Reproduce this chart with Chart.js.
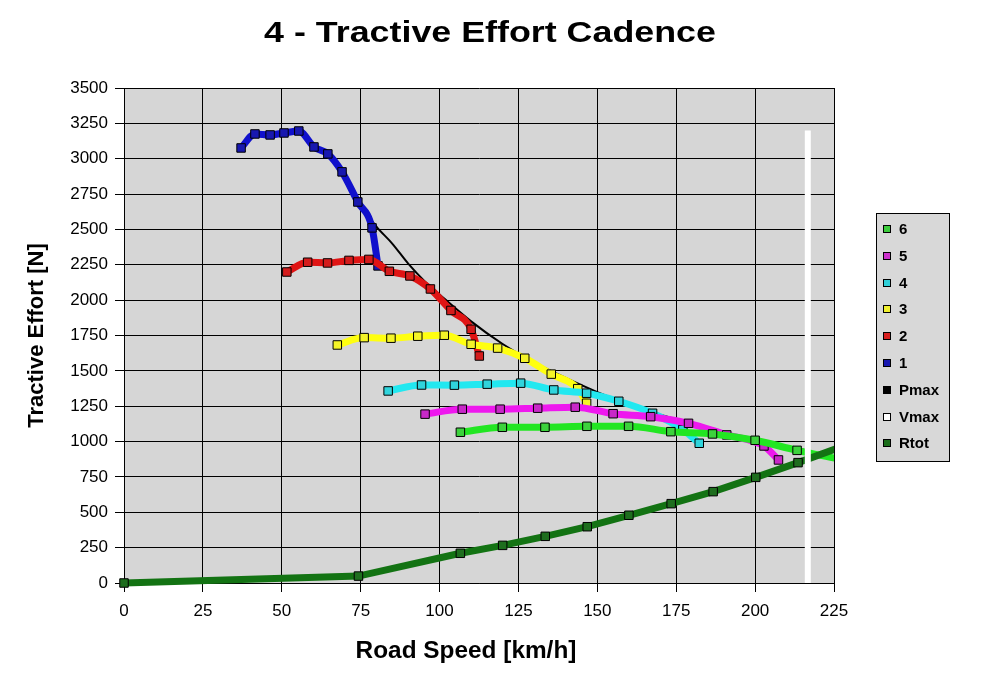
<!DOCTYPE html>
<html>
<head>
<meta charset="utf-8">
<title>4 - Tractive Effort Cadence</title>
<script src="https://cdn.jsdelivr.net/npm/chart.js@4/dist/chart.umd.min.js"></script>
<style>
    body { margin: 0; background: #fff; }
</style>
</head>
<body>
<canvas id="tractiveChart" width="1000" height="688"></canvas>
<script>
// values (speed in km/h, force in N)
const gear1_speed = [37.1, 41.5, 46.3, 50.7, 55.4, 60.2, 64.6, 69.1, 74.1, 78.6, 80.5]
const gear1_force = [3076, 3175, 3168, 3182, 3196, 3083, 3034, 2907, 2694, 2511, 2242]

const gear2_speed = [51.6, 58.2, 64.5, 71.3, 77.6, 84.1, 90.6, 97.1, 103.6, 110.0, 112.6]
const gear2_force = [2199, 2268, 2263, 2281, 2288, 2204, 2171, 2079, 1927, 1794, 1605]

const gear3_speed = [67.6, 76.1, 84.6, 93.1, 101.5, 110.0, 118.4, 127.0, 135.4, 143.8, 146.6]
const gear3_force = [1683, 1735, 1731, 1745, 1752, 1688, 1661, 1589, 1477, 1374, 1271]

const gear4_speed = [83.7, 94.3, 104.7, 115.1, 125.7, 136.2, 146.6, 156.8, 167.5, 177.1, 182.3]
const gear4_force = [1358, 1400, 1399, 1406, 1413, 1365, 1342, 1285, 1200, 1085, 988]

const gear5_speed = [95.4, 107.2, 119.2, 131.1, 143.0, 155.0, 166.9, 178.9, 191.0, 202.8, 207.4]
const gear5_force = [1194, 1229, 1229, 1236, 1243, 1197, 1176, 1129, 1047, 969, 870]

const gear6_speed = [106.6, 119.9, 133.4, 146.7, 159.9, 173.3, 186.5, 200.0, 213.3, 227.0]
const gear6_force = [1066, 1101, 1101, 1108, 1108, 1070, 1054, 1009, 938, 875]

const pmax_speed = [69, 74, 80, 85, 90, 95, 100, 110, 120, 130, 140, 150, 160, 170, 180, 190, 200, 210, 217]
const pmax_force = [2910, 2705, 2520, 2400, 2260, 2140, 2040, 1850, 1690, 1560, 1450, 1350, 1265, 1190, 1125, 1065, 1010, 965, 935]

const vmax_speed = [216.7, 216.7]
const vmax_force = [0, 3200]

const rtot_speed = [0, 74.3, 106.6, 120.0, 133.5, 146.8, 160.0, 173.4, 186.7, 200.2, 213.6, 227.0]
const rtot_force = [0, 49, 210, 266, 330, 398, 479, 561, 646, 747, 851, 961]

const speed_ticks = [0, 25, 50, 75, 100, 125, 150, 175, 200, 225]
const force_ticks = [0, 250, 500, 750, 1000, 1250, 1500, 1750, 2000, 2250, 2500, 2750, 3000, 3250, 3500]

const legend_labels = ['6', '5', '4', '3', '2', '1', 'Pmax', 'Vmax', 'Rtot']

const titulo = '4 - Tractive Effort Cadence'
const titulo_x = 'Road Speed [km/h]'
const titulo_y = 'Tractive Effort [N]'

const FONT = '"Liberation Sans", Arial, Helvetica, sans-serif'

function hacer_puntos(speed, force) {
    return speed.map((v, i) => ({ x: v, y: force[i] }))
}

function serie_marcha(label, speed, force, linea, relleno) {
    return {
        label: label,
        data: hacer_puntos(speed, force),
        borderColor: linea,
        borderWidth: 7,
        backgroundColor: relleno,
        pointBackgroundColor: relleno,
        pointBorderColor: '#000',
        pointBorderWidth: 1,
        pointStyle: 'rect',
        pointRadius: 6,
        cubicInterpolationMode: 'monotone'
    }
}

const legend_colors = ['#3ccc3c', '#cc30cc', '#30d0d8', '#f0f030', '#d82020', '#1818b0', '#000', '#fff', '#1b6e1b']

// texto estirado a lo ancho, como en la imagen original
function texto_ancho(ctx, texto, x, y, font, escala) {
    ctx.save()
    ctx.font = font
    ctx.fillStyle = '#000'
    ctx.textAlign = 'center'
    ctx.textBaseline = 'middle'
    ctx.translate(x, y)
    ctx.scale(escala, 1)
    ctx.fillText(texto, 0, 0)
    ctx.restore()
}

const fondo_plugin = {
    id: 'fondo',
    beforeDraw(chart) {
        const { ctx, chartArea } = chart
        ctx.save()
        ctx.fillStyle = '#fff'
        ctx.fillRect(0, 0, chart.width, chart.height)
        ctx.fillStyle = '#d6d6d6'
        ctx.fillRect(chartArea.left, chartArea.top, chartArea.right - chartArea.left, chartArea.bottom - chartArea.top)
        ctx.restore()
    }
}

const textos_plugin = {
    id: 'textos',
    afterDraw(chart) {
        const ctx = chart.ctx
        texto_ancho(ctx, titulo, 490, 34, 'bold 29px ' + FONT, 1.235)
        texto_ancho(ctx, titulo_x, 466, 652, 'bold 23px ' + FONT, 1.06)
    }
}

const leyenda_plugin = {
    id: 'leyenda',
    afterDraw(chart) {
        const ctx = chart.ctx
        ctx.save()
        ctx.fillStyle = '#d8d8d8'
        ctx.fillRect(876, 213, 73, 248)
        ctx.strokeStyle = '#000'
        ctx.lineWidth = 1
        ctx.strokeRect(876.5, 213.5, 73, 248)
        ctx.font = 'bold 15px ' + FONT
        ctx.textBaseline = 'middle'
        legend_labels.forEach((label, i) => {
            const y = Math.round(229 + i * 26.8)
            ctx.fillStyle = legend_colors[i]
            ctx.fillRect(883, y - 4, 8, 8)
            ctx.strokeStyle = '#000'
            ctx.strokeRect(883.5, y - 3.5, 7, 7)
            ctx.fillStyle = '#000'
            ctx.fillText(label, 899, y + 1)
        })
        ctx.restore()
    }
}

function dibujar_grafico() {
    const tractiveChart = document.getElementById('tractiveChart')
    new Chart(tractiveChart, {
        type: 'line',
        data: {
            datasets: [
                {
                    label: 'Vmax',
                    data: hacer_puntos(vmax_speed, vmax_force),
                    borderColor: '#fff',
                    borderWidth: 6,
                    pointRadius: 0
                },
                Object.assign(serie_marcha('Rtot', rtot_speed, rtot_force, '#137313', '#1e6e1e'),
                    { clip: { left: 10, top: 10, right: 0, bottom: 10 }, cubicInterpolationMode: 'default', tension: 0 }),
                Object.assign(serie_marcha('6', gear6_speed, gear6_force, '#22e622', '#3cd23c'),
                    { clip: { left: 10, top: 10, right: 0, bottom: 10 } }),
                serie_marcha('5', gear5_speed, gear5_force, '#ee18ee', '#c828c8'),
                serie_marcha('4', gear4_speed, gear4_force, '#22e8f0', '#30d4dc'),
                serie_marcha('3', gear3_speed, gear3_force, '#ffff10', '#f4f428'),
                serie_marcha('2', gear2_speed, gear2_force, '#e01414', '#d41c1c'),
                serie_marcha('1', gear1_speed, gear1_force, '#1010cc', '#1818b0'),
                {
                    label: 'Pmax',
                    data: hacer_puntos(pmax_speed, pmax_force),
                    borderColor: '#000',
                    borderWidth: 2,
                    pointRadius: 0,
                    cubicInterpolationMode: 'monotone'
                }
            ]
        },
        options: {
            responsive: false,
            animation: false,
            devicePixelRatio: 1,
            layout: { padding: { left: 0, right: 166, top: 88, bottom: 0 } },
            plugins: {
                legend: { display: false },
                tooltip: { enabled: false },
                title: { display: false }
            },
            scales: {
                x: {
                    type: 'linear',
                    min: 0,
                    max: 225,
                    afterFit(scale) { scale.height = 105 },
                    afterBuildTicks(scale) { scale.ticks = speed_ticks.map(v => ({ value: v })) },
                    ticks: {
                        color: '#000',
                        font: { family: FONT, size: 17 },
                        padding: 9,
                        maxRotation: 0,
                        callback: value => String(value)
                    },
                    grid: { color: '#000', lineWidth: 1, tickLength: 9 },
                    border: { color: '#000', width: 1 },
                    title: { display: false }
                },
                y: {
                    type: 'linear',
                    min: 0,
                    max: 3500,
                    afterFit(scale) { scale.width = 124 },
                    afterBuildTicks(scale) { scale.ticks = force_ticks.map(v => ({ value: v })) },
                    ticks: {
                        color: '#000',
                        font: { family: FONT, size: 17 },
                        padding: 7,
                        callback: value => String(value)
                    },
                    grid: { color: '#000', lineWidth: 1, tickLength: 9 },
                    border: { color: '#000', width: 1 },
                    title: {
                        display: true,
                        text: titulo_y,
                        color: '#000',
                        font: { family: FONT, size: 22, weight: 'bold' },
                        padding: { top: 24, bottom: 0 }
                    }
                }
            }
        },
        plugins: [fondo_plugin, textos_plugin, leyenda_plugin]
    })
}

dibujar_grafico()
</script>
</body>
</html>
